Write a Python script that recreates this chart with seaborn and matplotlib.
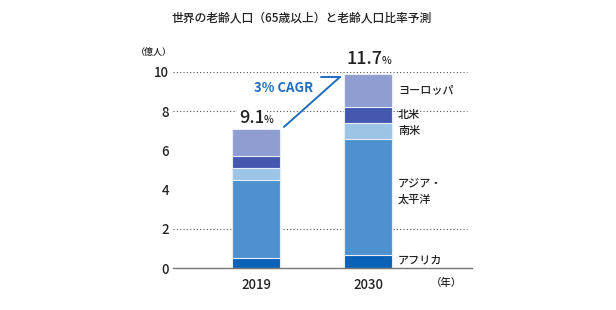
import matplotlib
matplotlib.use("Agg")
import matplotlib.pyplot as plt
import seaborn as sns
import pandas as pd
import numpy as np

# ---- data ----
years = ["2019", "2030"]
regions = ["アフリカ", "アジア・\n太平洋", "南米", "北米", "ヨーロッパ"]
africa = [0.5, 0.7]
asia = [4.0, 5.9]
south_america = [0.6, 0.8]
north_america = [0.6, 0.8]
europe = [1.4, 1.7]
ratio_labels = ["9.1", "11.7"]
yticks = [0, 2, 4, 6, 8, 10]
title = "世界の老齢人口（65歳以上）と老齢人口比率予測"
cagr_label = "3% CAGR"

colors = ["#0a62b8", "#4d92cf", "#9dc3e5", "#4458b0", "#8f9dd0"]

sns.set_theme(style="white")
plt.rcParams["font.family"] = ["Noto Sans CJK JP", "DejaVu Sans"]

series = [africa, asia, south_america, north_america, europe]
cum = np.cumsum(np.array(series), axis=0)
df = pd.DataFrame({"year": np.repeat([years], len(regions), axis=0).ravel(),
                   "region": np.repeat(regions, len(years)),
                   "top": cum.ravel()})

fig = plt.figure(figsize=(6.16, 3.10), dpi=100)
ax = fig.add_axes([173 / 616, 1 - 268.3 / 310, 299 / 616, 196.6 / 310])

# gridlines (only some are visible in the reference)
for g in [2, 8, 10]:
    ax.axhline(g, color="#555555", lw=0.8, ls=(0, (1, 2)), zorder=0, xmax=(467 - 173) / 299)

# stacked bars drawn from total down
for i in range(len(regions) - 1, -1, -1):
    sub = df[df["region"] == regions[i]]
    sns.barplot(data=sub, x="year", y="top", color=colors[i], width=0.43,
                saturation=1, edgecolor="#e8eef8", linewidth=0.8, ax=ax, zorder=2)

ax.set_xlim(-0.741, 1.929)
ax.set_ylim(0, 10)
ax.set_yticks(yticks)
ax.set_yticklabels([str(t) for t in yticks], fontsize=9.5, color="#222222",
                   fontweight="medium")
ax.tick_params(axis="y", length=0, pad=3)
ax.tick_params(axis="x", length=0, pad=7)
for t in ax.get_xticklabels():
    t.set_fontsize(9.5)
    t.set_color("#222222")
    t.set_fontweight("medium")
ax.set_xlabel("")
ax.set_ylabel("")
for s in ["top", "right", "left"]:
    ax.spines[s].set_visible(False)
ax.spines["bottom"].set_color("#777777")
ax.spines["bottom"].set_linewidth(1.0)

totals = cum[-1]
# ratio labels
offs = [(9, 6), (15, 10)]
for i, (lab, tot) in enumerate(zip(ratio_labels, totals)):
    dx, dy = offs[i]
    ax.annotate(lab, (i, tot), xytext=(dx, dy), textcoords="offset pixels",
                ha="right", va="baseline", fontsize=13, color="#222222",
                fontweight="medium",
                bbox=dict(boxstyle="square,pad=0.1", fc="white", ec="none"), zorder=5)
    ax.annotate("%", (i, tot), xytext=(dx - 1, dy), textcoords="offset pixels",
                ha="left", va="baseline", fontsize=7.5, color="#222222",
                fontweight="medium",
                bbox=dict(boxstyle="square,pad=0.1", fc="white", ec="none"), zorder=5)

# region labels at right of 2030 bar
bottoms = cum - np.array(series)
for r in range(len(regions)):
    mid = (bottoms[r, 1] + cum[r, 1]) / 2
    if r == 0:
        mid = 0.4
    elif r == 1:
        mid += 0.25
    ax.text(1 + 30 / 112, mid, regions[r], ha="left", va="center",
            fontsize=8, color="#222222", linespacing=1.55, fontweight="medium")

# CAGR arrow
blue = "#1f6ec0"
ax.plot([0.25, 0.75], [7.19, 9.73], color=blue, lw=1.4, clip_on=False, zorder=4)
ax.plot([0.58, 0.75], [9.73, 9.73], color=blue, lw=1.4, clip_on=False, zorder=4)
ax.text(0.51, 9.17, cagr_label, ha="right", va="center", fontsize=9.5,
        fontweight="bold", color=blue)

# title and unit labels
fig.text(0.49, 1 - 18 / 310, title, ha="center", va="center", fontsize=8.5,
         color="#222222", fontweight="medium")
fig.text(154 / 616, 1 - 52 / 310, "（億人）", ha="center", va="center", fontsize=6.5,
         color="#222222", fontweight="medium")
fig.text(446 / 616, 1 - 283 / 310, "（年）", ha="center", va="center", fontsize=7.5,
         color="#222222", fontweight="medium")

fig.savefig("out.png", dpi=100)
